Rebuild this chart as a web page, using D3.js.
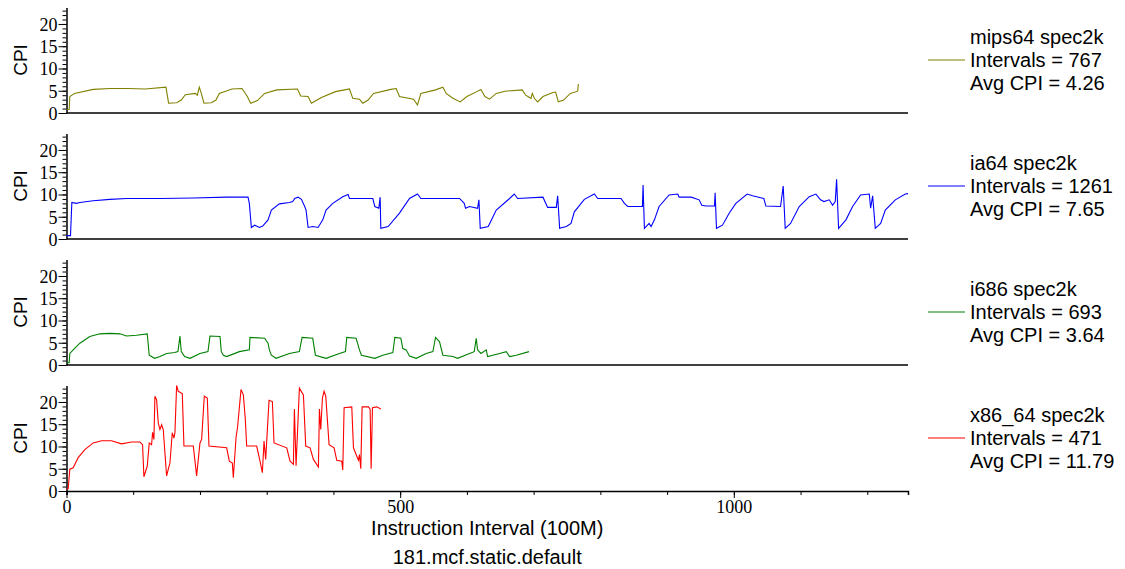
<!DOCTYPE html>
<meta charset="utf-8">
<script src="https://d3js.org/d3.v7.min.js"></script>
<style>
body { margin: 0; background: #fff; }
.domain { stroke: #000; stroke-width: 1.5px; }
.tick line { stroke: #000; }
path.trace { fill: none; stroke-width: 1.1px; }
</style>
<body>
<script>
// as [interval, cpi] breakpoints
var mipsData = [[0,0.8],[4,0.8],[5,3.7],[12,4.4],[40,5.3],[66,5.5],[92,5.5],[118,5.4],[149,5.8],[153,2.2],
  [165,2.3],[172,2.9],[178,4.1],[193,4.4],[196,4.0],[199,5.8],[202,4.4],[206,2.2],[217,2.3],[224,2.9],
  [229,4.4],[248,5.4],[263,5.5],[271,3.7],[276,2.2],[286,2.8],[297,4.4],[315,5.2],[346,5.4],[351,3.8],
  [362,3.7],[367,2.2],[382,3.5],[403,4.8],[424,5.4],[429,3.3],[439,3.1],[444,2.2],[452,2.9],[460,4.4],
  [486,5.3],[494,5.5],[499,3.7],[520,3.1],[526,1.8],[531,4.4],[553,5.2],[564,5.8],[569,4.4],[579,3.3],
  [590,2.5],[600,3.7],[615,4.8],[621,5.3],[627,3.7],[634,3.1],[644,4.4],[657,4.9],[683,5.2],[688,4.0],
  [696,3.3],[698,4.4],[701,3.3],[706,2.5],[714,3.7],[729,4.6],[733,4.7],[737,2.5],[745,2.9],[755,4.4],
  [766,4.9],[767,6.5]];

var ia64Data = [[0,0.75],[6,0.75],[8,8.2],[15,8.0],[20,8.2],[40,8.6],[65,8.9],[90,9.1],[140,9.1],[190,9.2],
  [240,9.4],[272,9.4],[274,8.0],[277,2.6],[282,3.1],[289,2.6],[294,2.9],[302,4.3],[307,6.5],[319,7.9],
  [334,8.2],[339,8.4],[342,9.1],[347,9.4],[352,8.9],[357,7.3],[359,6.5],[362,2.6],[369,2.8],[377,2.6],
  [384,4.3],[389,6.5],[399,8.0],[414,9.5],[422,10.0],[424,9.1],[459,9.1],[462,7.3],[468,6.9],[470,9.4],
  [471,2.4],[482,2.8],[499,5.8],[514,9.1],[526,10.1],[531,9.1],[589,9.1],[596,8.0],[598,6.9],[604,7.3],
  [616,6.9],[618,8.8],[620,2.4],[632,2.8],[644,6.5],[664,9.1],[671,10.1],[676,9.1],[714,9.4],[721,7.1],
  [734,7.1],[736,9.7],[739,2.4],[749,2.8],[756,3.5],[761,6.1],[776,8.9],[791,10.1],[796,9.1],[831,9.1],
  [836,8.0],[841,7.3],[863,7.3],[864,12.1],[866,2.4],[873,3.5],[876,2.8],[881,4.3],[888,7.3],[903,9.9],
  [916,10.1],[918,9.4],[936,9.4],[948,8.8],[952,7.6],[958,7.4],[971,7.4],[972,10.4],[974,2.4],[983,3.1],
  [993,5.8],[1003,8.0],[1020,10.1],[1028,9.7],[1045,9.1],[1048,7.4],[1070,7.3],[1074,11.9],[1077,2.4],
  [1085,3.5],[1098,7.3],[1113,9.5],[1123,10.1],[1130,8.8],[1135,8.4],[1143,8.8],[1148,7.6],[1152,8.4],
  [1154,13.4],[1157,2.4],[1168,4.3],[1178,7.3],[1190,9.9],[1203,10.1],[1205,6.9],[1208,9.7],[1212,2.4],
  [1220,3.5],[1227,6.5],[1242,8.8],[1257,10.1],[1261,10.2]];

var i686Data = [[0,0.5],[4,0.5],[5,2.6],[10,3.4],[20,4.9],[35,6.4],[50,7.0],[65,7.1],[80,7.0],[90,6.5],
  [105,6.7],[121,7.0],[124,2.2],[132,1.5],[140,1.9],[150,2.6],[162,2.8],[167,3.0],[170,6.5],[172,3.0],
  [177,1.9],[185,1.5],[200,2.6],[212,3.0],[215,6.5],[230,6.4],[232,3.0],[235,2.2],[240,1.9],[259,3.0],
  [274,3.4],[275,6.2],[297,6.0],[302,4.9],[304,3.4],[307,2.2],[314,1.5],[334,2.6],[349,3.0],[353,6.2],
  [369,6.0],[373,2.2],[389,1.5],[409,2.6],[418,3.0],[420,6.2],[434,6.0],[439,3.4],[442,2.2],[462,1.5],
  [474,2.2],[489,2.8],[492,6.2],[501,6.0],[504,3.7],[509,3.4],[514,2.0],[524,1.5],[539,2.6],[549,3.0],
  [553,6.2],[559,5.2],[564,2.2],[579,1.9],[586,1.5],[604,2.6],[611,3.0],[614,6.0],[616,3.4],[621,2.6],
  [629,3.4],[631,1.9],[649,2.6],[659,3.0],[664,1.9],[674,2.2],[693,3.0]];

var x86Data = [[0,0.5],[2.5,0.5],[5,4.9],[10,5.2],[17.5,7.5],[27.5,9.3],[40,10.8],[52.5,11.3],[67.5,11.3],
  [82.5,10.6],[97.5,11.0],[110,11.0],[114,10.4],[116,3.2],[121,5.6],[124,10.8],[127.5,10.4],[129,13.2],
  [131,11.6],[132.5,21.3],[135,20.5],[137.5,15.3],[140,13.8],[142.5,14.9],[145,13.8],[150,3.4],[155,6.3],
  [158.5,13.1],[161,11.9],[162.5,13.1],[165,23.7],[167.5,22.4],[173.5,21.9],[176,10.1],[190,10.1],[195,3.4],
  [200,10.8],[202.5,11.6],[206.5,21.3],[211,20.9],[213.5,10.1],[240,9.7],[244,6.7],[248.5,6.3],[250,3.0],
  [254,11.9],[256.5,14.6],[261.5,22.8],[265,21.6],[268,16.0],[270,10.1],[285,10.1],[290,6.7],[293.5,4.1],
  [296,11.2],[298.5,7.1],[303.5,20.4],[308.5,20.1],[311,10.8],[330,9.7],[335,6.7],[340,6.0],[341.5,18.4],
  [344,5.7],[349,23.1],[355,21.6],[358.5,10.1],[365,9.7],[370,7.1],[377.5,5.4],[379,18.4],[381,13.8],
  [383.5,20.9],[386,22.4],[388.5,21.3],[393.5,10.4],[401,9.7],[405,6.9],[412.5,6.7],[414,4.7],[416,18.7],
  [427.5,18.9],[430,9.7],[434,8.2],[437.5,6.9],[439,8.2],[441,5.0],[443,18.9],[452.5,18.9],[455,18.4],
  [456.5,5.0],[458.5,18.7],[465,18.9],[471,18.4]];

var seriesNames = ["mips64 spec2k", "ia64 spec2k", "i686 spec2k", "x86_64 spec2k"];
var intervals = [767, 1261, 693, 471];
var avgCpi = ["4.26", "7.65", "3.64", "11.79"];
var yTicks = [0, 5, 10, 15, 20];
var xTicks = [0, 500, 1000];
var xLabel = "Instruction Interval (100M)";
var title = "181.mcf.static.default";

var allData = [mipsData, ia64Data, i686Data, x86Data];
var colors = ["#808000", "#0000ff", "#008000", "#ff0000"];

var sans = "'Liberation Sans', Arial, sans-serif";
var serif = "'Liberation Serif', 'Times New Roman', serif";

var width = 1125, height = 569;
var left = 66.5, right = 908;
var panelStep = 126, firstBase = 113, panelH = 105.5;

var svg = d3.select("body").append("svg")
    .attr("width", width)
    .attr("height", height);

var x = d3.scaleLinear()
    .domain([0, 1261])
    .range([left, right]);

function serifTicks(a) {
  a.selectAll(".tick text")
      .style("font-family", serif)
      .style("font-size", "18px")
      .attr("fill", "#000");
}

allData.forEach(function(data, i) {
  var base = firstBase + panelStep * i;
  var y = d3.scaleLinear()
      .domain([0, 23.7])
      .range([base, base - panelH]);

  var g = svg.append("g");

  // minor y ticks every 1
  g.append("g")
      .attr("transform", "translate(" + left + ",0)")
      .call(d3.axisLeft(y).tickValues(d3.range(0, 24)).tickSize(4).tickFormat(""))
      .call(function(a) { a.select(".domain").remove(); });

  g.append("g")
      .attr("transform", "translate(" + left + ",0)")
      .call(d3.axisLeft(y).tickValues(yTicks).tickSize(8).tickSizeOuter(0).tickPadding(1))
      .call(serifTicks)
      .call(function(a) { a.selectAll(".tick text").attr("dy", "0.36em"); });

  // bottom line of panel
  if (i < 3) {
    g.append("line")
        .attr("x1", left).attr("x2", right)
        .attr("y1", base).attr("y2", base)
        .attr("stroke", "#000").attr("stroke-width", 1.5);
  } else {
    g.append("g")
        .attr("transform", "translate(0," + base + ")")
        .call(d3.axisBottom(x).tickValues(d3.range(0, 1300, 100)).tickSize(4).tickFormat(""));
    g.append("g")
        .attr("transform", "translate(0," + base + ")")
        .call(d3.axisBottom(x).tickValues(xTicks).tickSize(7).tickSizeOuter(0).tickPadding(2)
            .tickFormat(d3.format("d")))
        .call(serifTicks)
        .call(function(a) { a.select(".domain").remove(); });
  }

  var line = d3.line()
      .x(function(d) { return x(d[0]); })
      .y(function(d) { return y(d[1]); });

  g.append("path")
      .datum(data)
      .attr("class", "trace")
      .attr("stroke", colors[i])
      .attr("d", line);

  g.append("text")
      .attr("transform", "translate(27," + (base - 53) + ") rotate(-90)")
      .attr("text-anchor", "middle")
      .style("font-family", sans)
      .style("font-size", "19px")
      .text("CPI");

  // legend
  var ly = base - 53;
  g.append("line")
      .attr("x1", 928).attr("x2", 965)
      .attr("y1", ly).attr("y2", ly)
      .attr("stroke", colors[i]).attr("stroke-width", 1.2);
  var lines = [seriesNames[i], "Intervals = " + intervals[i], "Avg CPI = " + avgCpi[i]];
  lines.forEach(function(t, k) {
    g.append("text")
        .attr("x", 970)
        .attr("y", ly - 16 + k * 23)
        .style("font-family", sans)
        .style("font-size", "20px")
        .text(t);
  });
});

svg.append("text")
    .attr("x", (left + right) / 2)
    .attr("y", 535)
    .attr("text-anchor", "middle")
    .style("font-family", sans)
    .style("font-size", "20px")
    .text(xLabel);

svg.append("text")
    .attr("x", (left + right) / 2)
    .attr("y", 564)
    .attr("text-anchor", "middle")
    .style("font-family", sans)
    .style("font-size", "20px")
    .text(title);
</script>
</body>
</html>
